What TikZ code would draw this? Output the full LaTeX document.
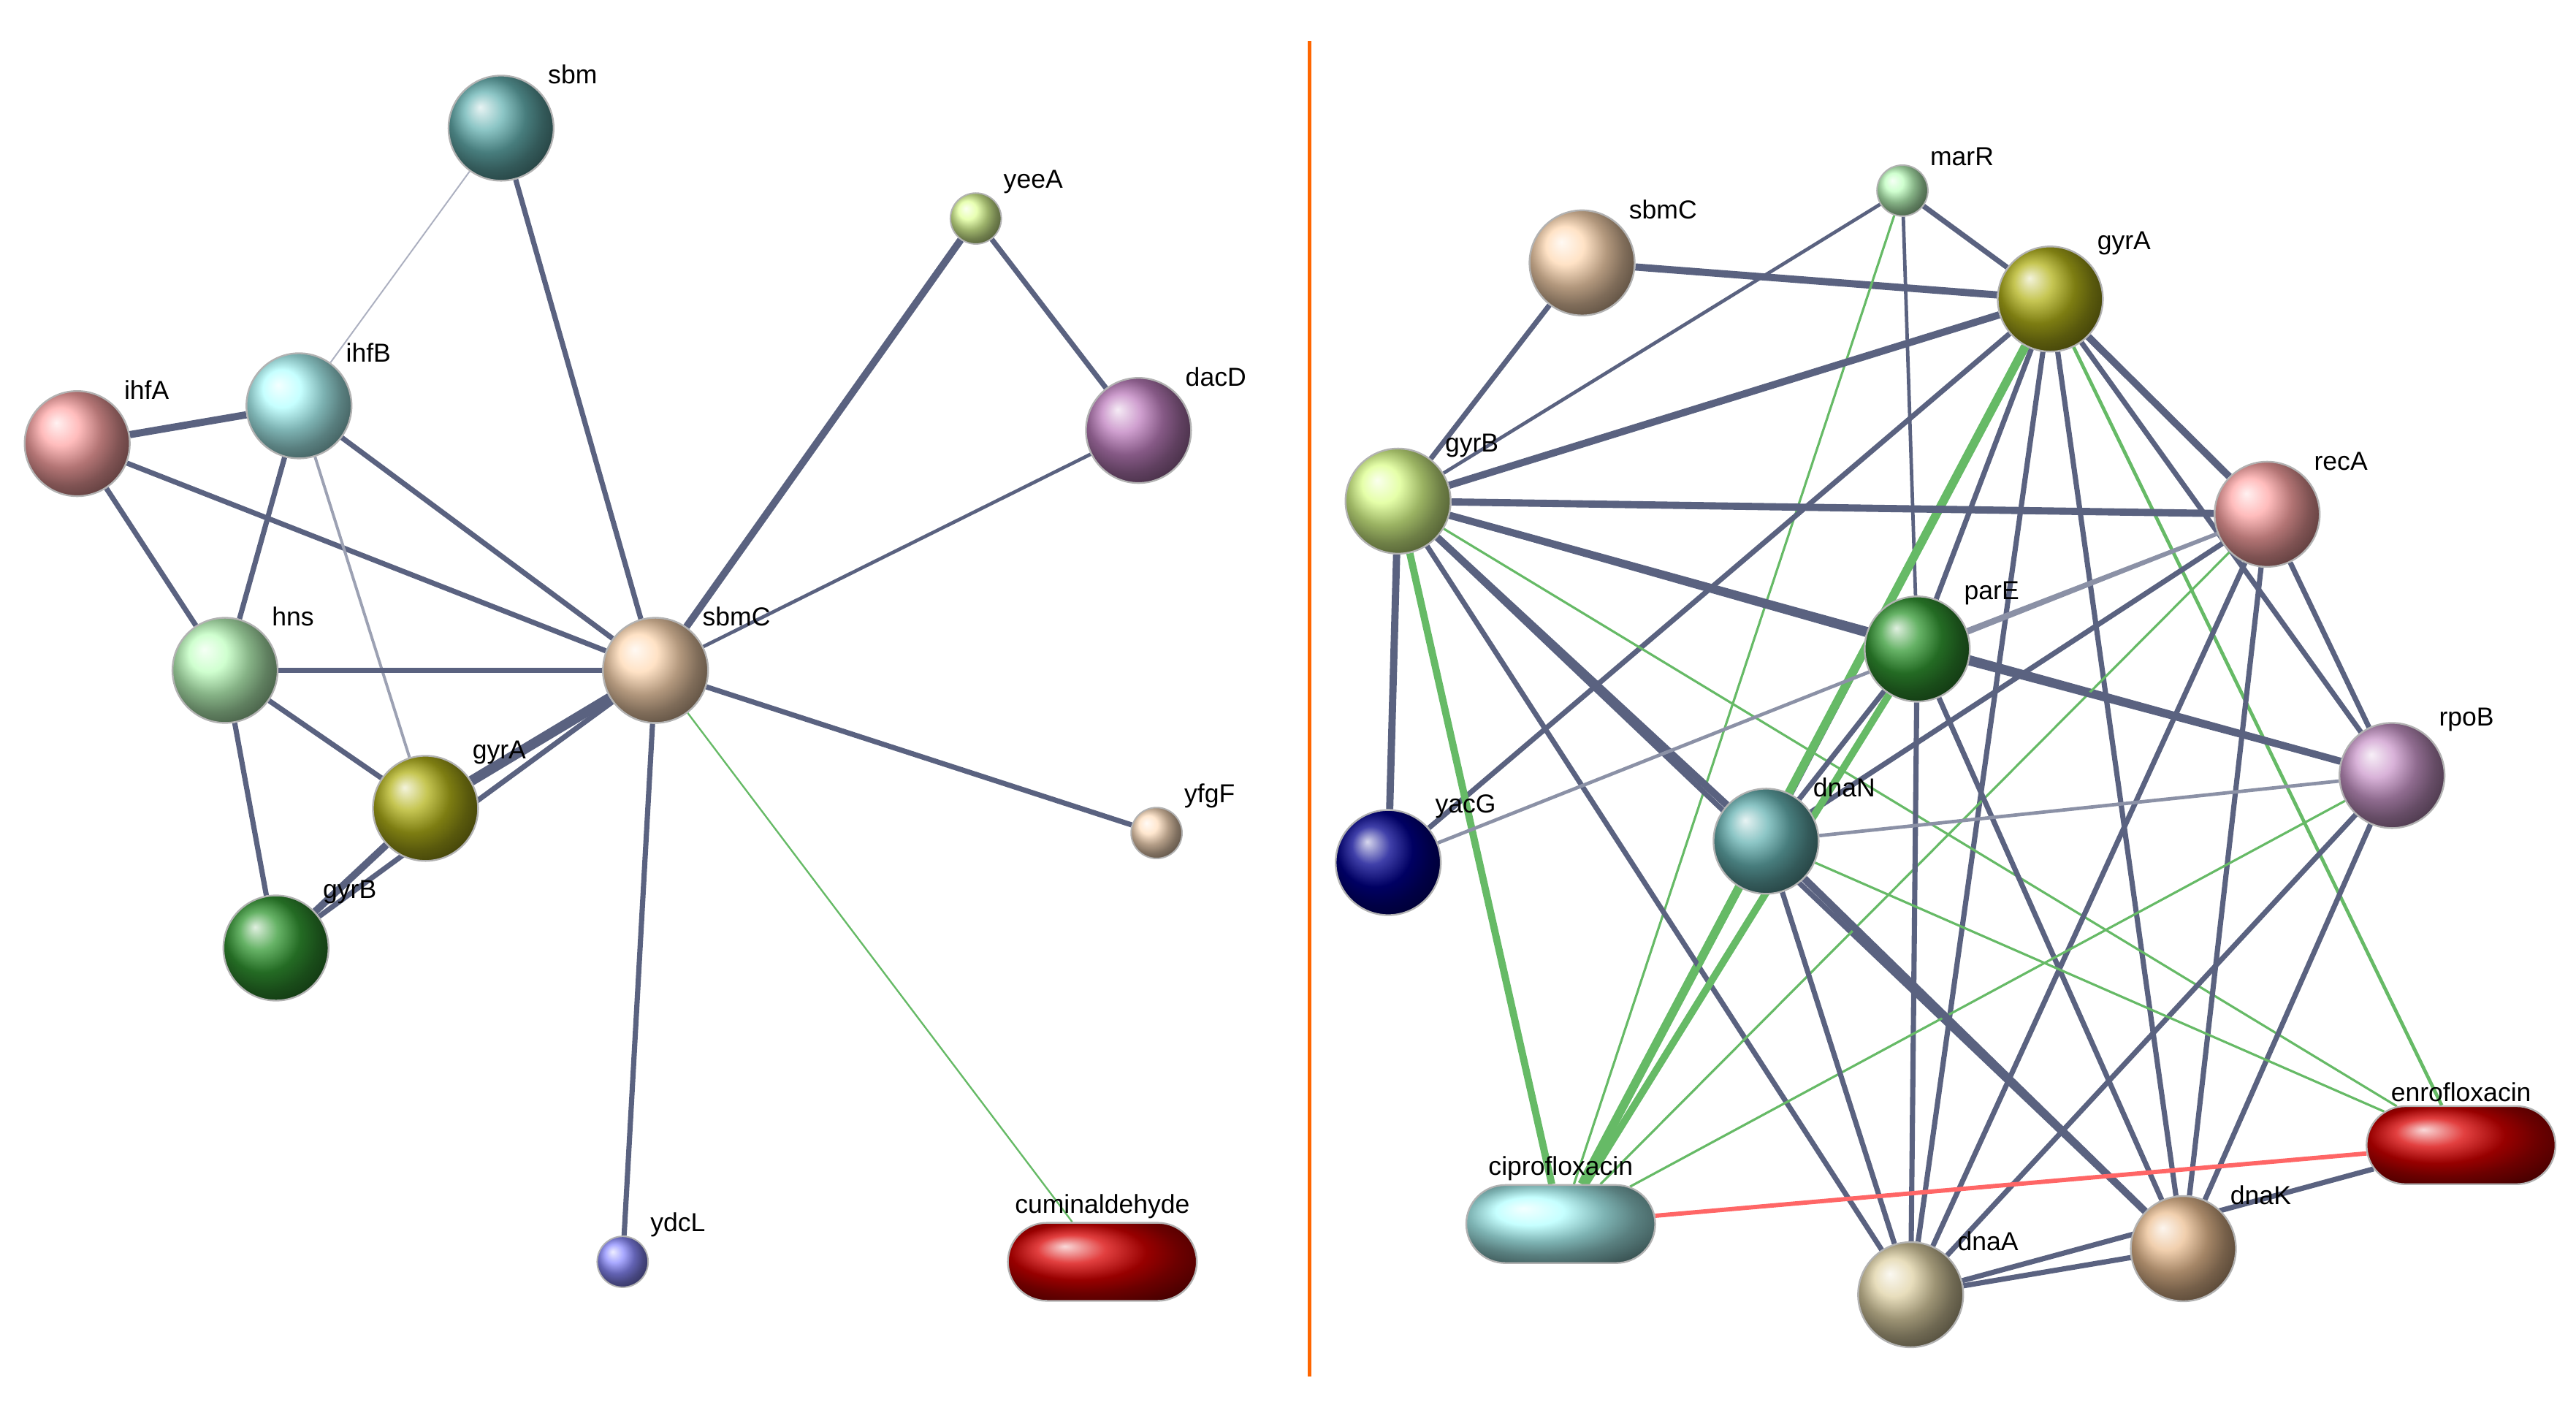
\documentclass[tikz,border=0pt]{standalone}
\usepackage{fontspec}
\setmainfont{Liberation Sans}
\usetikzlibrary{backgrounds,shapes.misc}
\begin{document}
\begin{tikzpicture}[x=0.02cm,y=-0.02cm,
 prot/.style={circle,minimum size=1.28cm,inner sep=0,ball color=#1,draw=gray!60,line width=0.6pt},
 small/.style={circle,minimum size=0.62cm,inner sep=0,ball color=#1,draw=gray!60,line width=0.5pt},
 pill/.style={rounded rectangle,minimum width=2.3cm,minimum height=0.95cm,inner sep=0,ball color=#1,draw=gray!60,line width=0.6pt},
 lab/.style={label={[font=\fontsize{9}{10}\selectfont,anchor=south west,inner sep=1pt,xshift=2pt,yshift=1pt]45:#1}},
 e/.style={draw=edgec,line width=#1},
 e/.default=1.8pt,
 g/.style={draw=green!55!black!60,line width=#1},
 g/.default=0.8pt]
\definecolor{edgec}{RGB}{90,98,128}
\useasboundingbox (0,0) rectangle (1568,855);
% left
\node[prot={teal!60},lab=sbm] (sbm) at (305,78) {};
\node[small={green!30!yellow!40}, lab=yeeA] (yeeA) at (594,133) {};
\node[prot={red!35}, lab=ihfA] (ihfA) at (47,270) {};
\node[prot={cyan!30}, lab=ihfB] (ihfB) at (182,247) {};
\node[prot={violet!50}, lab=dacD] (dacD) at (693,262) {};
\node[prot={green!25}, lab=hns] (hns) at (137,408) {};
\node[prot={orange!30}, lab=sbmC] (sbmC) at (399,408) {};
\node[prot={olive!60}, lab=gyrA] (gyrA) at (259,492) {};
\node[small={orange!25}, lab=yfgF] (yfgF) at (704,507) {};
\node[prot={green!50!black!80}, lab=gyrB] (gyrB) at (168,577) {};
\node[small={blue!45}, lab=ydcL] (ydcL) at (379,768) {};
\node[pill={red!85!black},label={[font=\fontsize{9}{10}\selectfont,inner sep=1pt]90:cuminaldehyde}] (cum) at (671,768) {};
\begin{scope}[on background layer]
\draw[line width=0.5pt,edgec!50] (sbm)--(ihfB);
\draw[e] (sbm)--(sbmC); \draw[e=2.5pt] (yeeA)--(sbmC); \draw[e] (yeeA)--(dacD);
\draw[e=1.2pt] (dacD)--(sbmC); \draw[e=2.5pt] (ihfA)--(ihfB); \draw[e] (ihfA)--(hns);
\draw[e] (ihfA)--(sbmC); \draw[e] (ihfB)--(hns); \draw[e=1pt,edgec!60] (ihfB)--(gyrA);
\draw[e] (ihfB)--(sbmC); \draw[e] (hns)--(sbmC); \draw[e] (hns)--(gyrA); \draw[e] (hns)--(gyrB);
\draw[e=2.5pt] (gyrA)--(gyrB); \draw[e=3.5pt] (gyrA)--(sbmC); \draw[e] (gyrB)--(sbmC);
\draw[e] (sbmC)--(yfgF); \draw[e] (sbmC)--(ydcL); \draw[g=0.6pt] (sbmC)--(cum);
\end{scope}
\draw[orange!80!red,line width=1.2pt] (797,25)--(797,838);
% right
\node[small={green!25}, lab=marR] (marR) at (1158,116) {};
\node[prot={orange!30}, lab=sbmC] (sbmC2) at (963,160) {};
\node[prot={olive!60}, lab=gyrA] (gyrA2) at (1248,182) {};
\node[prot={green!30!yellow!45}, lab=gyrB] (gyrB2) at (851,305) {};
\node[prot={red!35}, lab=recA] (recA) at (1380,313) {};
\node[prot={green!50!black!80}, lab=parE] (parE) at (1167,395) {};
\node[prot={violet!40}, lab=rpoB] (rpoB) at (1456,472) {};
\node[prot={blue!55!black}, lab=yacG] (yacG) at (845,525) {};
\node[prot={teal!60}, lab=dnaN] (dnaN) at (1075,512) {};
\node[pill={cyan!30},label={[font=\fontsize{9}{10}\selectfont,inner sep=1pt]90:ciprofloxacin}] (cip) at (950,745) {};
\node[pill={red!85!black},label={[font=\fontsize{9}{10}\selectfont,inner sep=1pt]90:enrofloxacin}] (enr) at (1498,697) {};
\node[prot={orange!30!olive!35}, lab=dnaA] (dnaA) at (1163,788) {};
\node[prot={orange!40!brown!50}, lab=dnaK] (dnaK) at (1329,760) {};
\begin{scope}[on background layer]
\draw[e=2.5pt] (sbmC2)--(gyrA2); \draw[e] (sbmC2)--(gyrB2);
\draw[e] (marR)--(gyrA2); \draw[e=1.2pt] (marR)--(gyrB2); \draw[e=1.2pt] (marR)--(parE); \draw[g] (marR)--(cip);
\draw[e=2.5pt] (gyrA2)--(gyrB2); \draw[e=2.5pt] (gyrA2)--(recA); \draw[e] (gyrA2)--(parE);
\draw[e] (gyrA2)--(dnaN); \draw[g=3pt] (gyrA2)--(cip); \draw[e] (gyrA2)--(yacG);
\draw[e] (gyrA2)--(dnaA); \draw[e] (gyrA2)--(dnaK); \draw[e] (gyrA2)--(rpoB); \draw[g=1.2pt] (gyrA2)--(enr);
\draw[e=2.5pt] (gyrB2)--(recA); \draw[e] (gyrB2)--(parE); \draw[e=2.5pt] (gyrB2)--(rpoB);
\draw[e=2.5pt] (gyrB2)--(yacG); \draw[e=2.5pt] (gyrB2)--(dnaN); \draw[g=2.5pt] (gyrB2)--(cip);
\draw[e] (gyrB2)--(dnaA); \draw[e] (gyrB2)--(dnaK); \draw[g] (gyrB2)--(enr);
\draw[e=1.2pt,edgec!70] (recA)--(parE); \draw[e] (recA)--(dnaN); \draw[e] (recA)--(rpoB);
\draw[e] (recA)--(dnaA); \draw[e] (recA)--(dnaK); \draw[g] (recA)--(cip);
\draw[e] (parE)--(dnaN); \draw[e] (parE)--(rpoB); \draw[g=2.5pt] (parE)--(cip);
\draw[e] (parE)--(dnaA); \draw[e] (parE)--(dnaK);
\draw[e=1.2pt,edgec!70] (rpoB)--(dnaN); \draw[g] (rpoB)--(cip); \draw[e] (rpoB)--(dnaA); \draw[e] (rpoB)--(dnaK);
\draw[e] (dnaN)--(dnaA); \draw[e=2.5pt] (dnaN)--(dnaK); \draw[g=1.5pt] (dnaN)--(cip);
\draw[e=1.2pt,edgec!70] (recA)--(yacG); \draw[g] (dnaN)--(enr); \draw[e] (dnaA)--(dnaK);
\draw[e] (dnaA)--(enr); \draw[red!60,line width=1.5pt] (cip)--(enr);
\end{scope}
\end{tikzpicture}
\end{document}
